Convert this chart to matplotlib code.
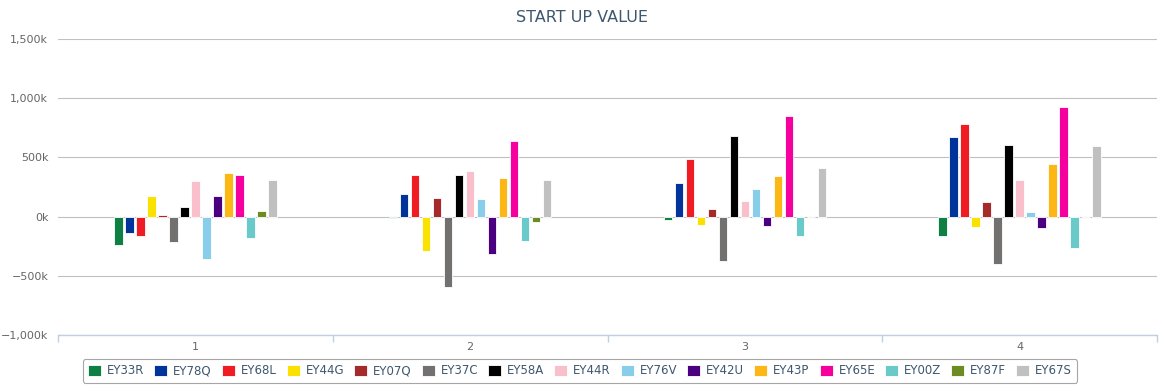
import matplotlib.pyplot as plt
import matplotlib.ticker as mticker
import numpy as np

# Kategorien und Serien (Werte in Tausend)
kategorien = [1, 2, 3, 4]
serien = ["EY33R", "EY78Q", "EY68L", "EY44G", "EY07Q", "EY37C", "EY58A", "EY44R",
          "EY76V", "EY42U", "EY43P", "EY65E", "EY00Z", "EY87F", "EY67S"]
farben = ["#0E8044", "#00349A", "#F01C24", "#FAE100", "#A52A2A", "#737070", "#000000",
          "#F9C0CB", "#88CEEB", "#4B0082", "#FDB714", "#F5009F", "#6ACAC9", "#6C8B22", "#C0C0C0"]

EY33R = [-243, -15, -31, -165]
EY78Q = [-141, 187, 280, 675]
EY68L = [-166, 355, 490, 784]
EY44G = [177, -291, -73, -90]
EY07Q = [17, 154, 61, 120]
EY37C = [-217, -594, -375, -401]
EY58A = [85, 355, 683, 607]
EY44R = [304, 381, 129, 305]
EY76V = [-361, 145, 229, 36]
EY42U = [177, -317, -81, -98]
EY43P = [372, 322, 347, 448]
EY65E = [355, 641, 851, 927]
EY00Z = [-183, -207, -165, -266]
EY87F = [51, -48, 0, 0]
EY67S = [313, 305, 414, 599]

werte = [EY33R, EY78Q, EY68L, EY44G, EY07Q, EY37C, EY58A, EY44R,
         EY76V, EY42U, EY43P, EY65E, EY00Z, EY87F, EY67S]

fig = plt.figure(figsize=(11.64, 3.92), dpi=100)
ax = fig.add_axes([58 / 1164, 57 / 392, 1099 / 1164, 296 / 392])

x = np.array(kategorien, dtype=float)
slot = 0.6 / len(serien)
for j, (name, vals, farbe) in enumerate(zip(serien, werte, farben)):
    ax.bar(x + (j - 7) * slot, vals, width=0.031, color=farbe, label=name,
           edgecolor="white", linewidth=0.6, zorder=3)

ax.set_xlim(0.5, 4.5)
ax.set_ylim(-1000, 1500)
ax.set_yticks([-1000, -500, 0, 500, 1000, 1500])
ax.yaxis.set_major_formatter(mticker.FuncFormatter(lambda v, p: f"{int(v):,}k".replace("-", "\u2212")))
ax.set_xticks(kategorien)
ax.set_xticks([0.5, 1.5, 2.5, 3.5, 4.5], minor=True)

ax.grid(axis="y", color="#C0C0C0", linewidth=0.8, zorder=0)
ax.set_axisbelow(True)
for s in ["top", "right", "left"]:
    ax.spines[s].set_visible(False)
ax.spines["bottom"].set_color("#C0D0E0")
ax.spines["bottom"].set_linewidth(1.0)
ax.spines["bottom"].set_zorder(4)

ax.tick_params(axis="y", length=0, pad=7, labelsize=8, labelcolor="#666666")
ax.tick_params(axis="x", which="major", length=0, pad=5, labelsize=8, labelcolor="#666666")
ax.tick_params(axis="x", which="minor", length=5, color="#C0D0E0", width=1)

fig.text(0.5, 1 - 18 / 392, "START UP VALUE", ha="center", va="center",
         fontsize=11.5, color="#3E576F")

leg = fig.legend(loc="center", bbox_to_anchor=(580 / 1164, 1 - 371 / 392), ncol=15,
                 fontsize=8.5, frameon=True, fancybox=True, handlelength=1.1,
                 handleheight=1.0, handletextpad=0.5, columnspacing=0.85,
                 borderpad=0.45, labelcolor="#3E576F")
leg.get_frame().set_edgecolor("#909090")
leg.get_frame().set_linewidth(0.8)

fig.savefig("out.png", dpi=100)
